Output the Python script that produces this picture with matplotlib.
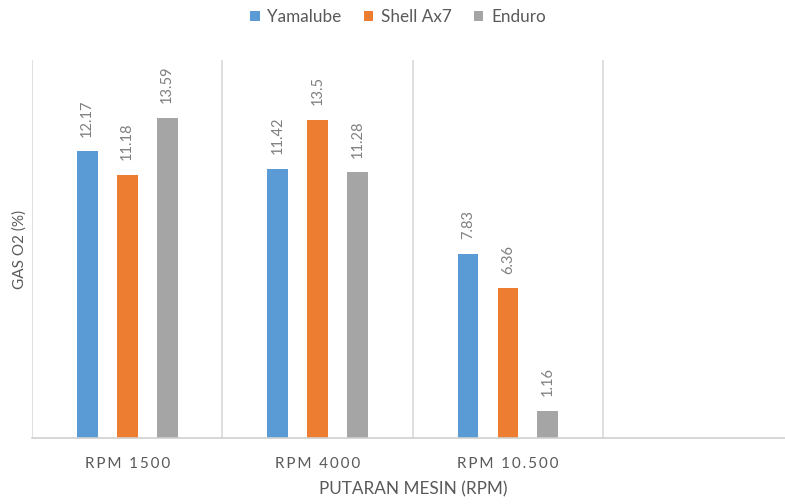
import matplotlib.pyplot as plt
import numpy as np

plt.rcParams['font.family'] = ['Lato', 'DejaVu Sans']

categories = ['RPM 1500', 'RPM 4000', 'RPM 10.500']
series_names = ['Yamalube', 'Shell Ax7', 'Enduro']
yamalube = [12.17, 11.42, 7.83]
shell_ax7 = [11.18, 13.5, 6.36]
enduro = [13.59, 11.28, 1.16]
colors = ['#5B9BD5', '#ED7D31', '#A5A5A5']

fig = plt.figure(figsize=(7.85, 5.04), dpi=100)
ax = fig.add_axes([32 / 785, 1 - 438 / 504, 1 - 32 / 785, (438 - 60) / 504])

x = np.arange(len(categories))
width = 0.11
offsets = [-0.21, 0, 0.21]
label_color = '#7F7F7F'

for vals, name, color, off in zip([yamalube, shell_ax7, enduro], series_names, colors, offsets):
    bars = ax.bar(x + off, vals, width, color=color, label=name)
    for bar, v in zip(bars, vals):
        ax.annotate(f'{v:g}', (bar.get_x() + bar.get_width() / 2, v),
                    xytext=(0, 10.5), textcoords='offset points',
                    rotation=90, ha='center', va='bottom',
                    fontsize=10.5, color=label_color)

ax.set_xlim(-0.5, 3.455)
ax.set_ylim(0, 16.05)

# category dividers like the spreadsheet layout
for b in [-0.5, 0.5, 1.5, 2.5]:
    ax.axvline(b, color='#D9D9D9', linewidth=1.2, zorder=0)

for s in ['top', 'right', 'left']:
    ax.spines[s].set_visible(False)
ax.spines['bottom'].set_color('#D0D0D0')
ax.spines['bottom'].set_linewidth(1.2)

# spaced-out category text
spaced = ['\u2009'.join(c) for c in categories]
ax.set_yticks([])
ax.set_xticks(x)
ax.set_xticklabels(spaced, fontsize=11, color='#595959')
ax.tick_params(axis='x', length=0, pad=14)

ax.set_xlabel('PUTARAN MESIN (RPM)', fontsize=12.3, color='#595959', labelpad=12)
ax.xaxis.set_label_coords((413 - 32) / (785 - 32), -0.115)
ax.set_ylabel('GAS O2 (%)', fontsize=11, color='#595959')
ax.yaxis.set_label_coords(-0.007, 0.5)

fig.legend(loc='center', bbox_to_anchor=(398 / 785, 1 - 17 / 504), ncol=3,
           frameon=False, fontsize=12.3, handlelength=0.55, handleheight=0.55,
           handletextpad=0.45, columnspacing=1.3, labelcolor='#595959')

fig.savefig('out.png', dpi=100)
